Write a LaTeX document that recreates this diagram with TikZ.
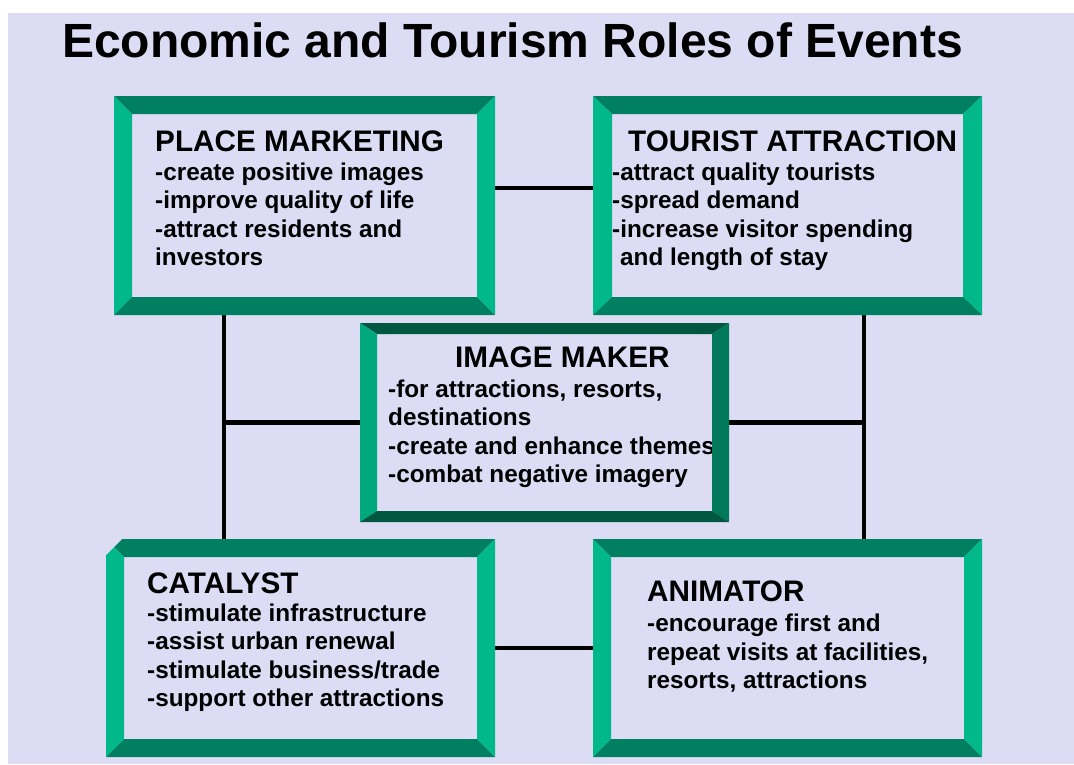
\documentclass[tikz,border=0pt]{standalone}
\usepackage{fontspec}
\setmainfont{Liberation Sans}
\definecolor{backColour}{RGB}{220,220,245}
\definecolor{frameDark}{RGB}{0,128,96}
\definecolor{frameLight}{RGB}{0,184,138}
\definecolor{imageTop}{RGB}{0,88,64}
\definecolor{imageLeft}{RGB}{0,168,126}
\definecolor{imageRight}{RGB}{0,120,90}
\tikzset{
	roleBox/.style={rectangle, inner sep=0pt, outer sep=0pt},
	heading/.style={font=\fontsize{29.7}{34}\selectfont\bfseries, inner sep=0pt, anchor=base west},
	item/.style={font=\fontsize{24.3}{28}\selectfont\bfseries, inner sep=0pt, anchor=base west},
	link/.style={line width=4.5pt, black}
}
% bevelled frame round a node: name, side width, top/bottom width, top, left, right, bottom colour
\newcommand{\bevelframe}[7]{%
	\fill[#4] (#1.north west) -- (#1.north east) -- ([xshift=-#2pt, yshift=-#3pt]#1.north east) -- ([xshift=#2pt, yshift=-#3pt]#1.north west) -- cycle;
	\fill[#5] (#1.north west) -- ([xshift=#2pt, yshift=-#3pt]#1.north west) -- ([xshift=#2pt, yshift=#3pt]#1.south west) -- (#1.south west) -- cycle;
	\fill[#6] (#1.north east) -- (#1.south east) -- ([xshift=-#2pt, yshift=#3pt]#1.south east) -- ([xshift=-#2pt, yshift=-#3pt]#1.north east) -- cycle;
	\fill[#7] (#1.south west) -- ([xshift=#2pt, yshift=#3pt]#1.south west) -- ([xshift=-#2pt, yshift=#3pt]#1.south east) -- (#1.south east) -- cycle;
}

\begin{document}
\begin{tikzpicture}[x=1pt, y=-1pt]
		% the page and the slide area
		\useasboundingbox (0, 0) rectangle (1074, 764);
		\fill[white] (0, 0) rectangle (1074, 764);
		\fill[backColour] (8, 13) rectangle (1074, 764);

		% title
		\node[font=\fontsize{48}{56}\selectfont\bfseries, inner sep=0pt, anchor=base west] (title) at (62, 57) {Economic and Tourism Roles of Events};

		% the five boxes
		\node[roleBox, minimum width=381pt, minimum height=219pt] (pm) at (304.5, 205.5) {};
		\node[roleBox, minimum width=389pt, minimum height=219pt] (ta) at (787.5, 205.5) {};
		\node[roleBox, minimum width=369pt, minimum height=199pt] (im) at (544.5, 422.5) {};
		\node[roleBox, minimum width=389pt, minimum height=218pt] (ca) at (300.5, 648) {};
		\node[roleBox, minimum width=389pt, minimum height=218pt] (an) at (787.5, 648) {};

		% connectors
		\coordinate (lbus) at (224, 422.5);
		\coordinate (rbus) at (864, 422.5);
		\draw[link] ([yshift=17.5pt]pm.east) -- ([yshift=17.5pt]ta.west);
		\draw[link] (lbus |- pm.south) -- (lbus |- ca.north);
		\draw[link] (lbus) -- (im.west);
		\draw[link] (rbus |- ta.south) -- (rbus |- an.north);
		\draw[link] (im.east) -- (rbus);
		\draw[link] (ca.east) -- (an.west);

		% place marketing
		\node[heading] (pm-head) at (155, 151.5) {PLACE MARKETING};
		\foreach \txt [count=\i] in {-create positive images, -improve quality of life, -attract residents and, investors}
			\node[item] (pm-\i) at (155, 151.5+\i*28.6) {\txt};

		% tourist attraction
		\node[heading] (ta-head) at (628, 151.5) {TOURIST ATTRACTION};
		\foreach \txt [count=\i] in {-attract quality tourists, -spread demand, -increase visitor spending}
			\node[item] (ta-\i) at (612, 151.5+\i*28.6) {\txt};
		\node[item] (ta-4) at (620, 151.5+4*28.6) {and length of stay};

		% image maker
		\node[heading] (im-head) at (455, 367.5) {IMAGE MAKER};
		\foreach \txt [count=\i] in {{-for attractions, resorts,}, destinations, -create and enhance themes, -combat negative imagery}
			\node[item] (im-\i) at (388, 368.5+\i*28.6) {\txt};

		% catalyst
		\node[heading] (ca-head) at (147, 593.5) {CATALYST};
		\foreach \txt [count=\i] in {-stimulate infrastructure, -assist urban renewal, -stimulate business/trade, -support other attractions}
			\node[item] (ca-\i) at (147, 592.5+\i*28.6) {\txt};

		% animator
		\node[heading] (an-head) at (647, 601.5) {ANIMATOR};
		\foreach \txt [count=\i] in {-encourage first and, {repeat visits at facilities,}, {resorts, attractions}}
			\node[item] (an-\i) at (647, 603.5+\i*28.3) {\txt};

		% frames on top, so that long lines run under them
		\bevelframe{pm}{18}{18}{frameDark}{frameLight}{frameLight}{frameDark}
		\bevelframe{ta}{19}{18}{frameDark}{frameLight}{frameLight}{frameDark}
		\bevelframe{im}{17}{11}{imageTop}{imageLeft}{imageRight}{imageTop}
		\bevelframe{ca}{18}{18}{frameDark}{frameLight}{frameLight}{frameDark}
		\bevelframe{an}{18}{18}{frameDark}{frameLight}{frameLight}{frameDark}
		% cut corner of the catalyst frame
		\fill[backColour] (ca.north west) -- ++(16, 0) -- ++(-16, 16) -- cycle;
	\end{tikzpicture}
\end{document}
